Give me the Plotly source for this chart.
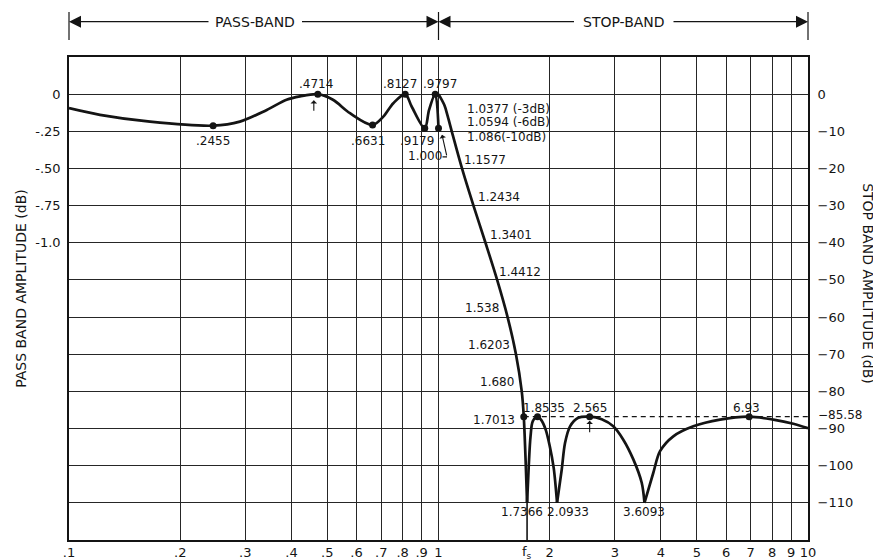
import numpy as np
import plotly.graph_objects as go

# ---------------- data ----------------
# Pass band response (left axis, dB)
PASS_FREQ = [0.1, 0.1213, 0.1657, 0.2455, 0.290, 0.343, 0.388, 0.4217, 0.4714,
             0.518, 0.576, 0.6631, 0.709, 0.7545, 0.8127, 0.846, 0.9179, 0.943,
             0.9797, 1.000]
PASS_DB = [-0.094, -0.139, -0.185, -0.212, -0.185, -0.106, -0.038, -0.015, 0.0,
           -0.038, -0.128, -0.207, -0.151, -0.061, 0.0, -0.083, -0.23, -0.106,
           0.0, -0.23]

# Pass band marked points
PASS_MARK_FREQ = [0.2455, 0.4714, 0.6631, 0.8127, 0.9179, 0.9797, 1.000]
PASS_MARK_DB = [-0.212, 0.0, -0.207, 0.0, -0.23, 0.0, -0.23]

# Stop band response (right axis, dB); notches drawn down to -110
STOP_FREQ = [1.0, 1.0377, 1.0594, 1.086, 1.1577, 1.2434, 1.3401, 1.4412, 1.538,
             1.6203, 1.680, 1.7013, 1.7366,
             1.755, 1.775, 1.80, 1.8535, 1.90, 1.95, 2.00, 2.05, 2.0933,
             2.155, 2.20, 2.27, 2.39, 2.565, 2.765, 2.972, 3.163, 3.367, 3.548, 3.6093,
             3.814, 3.977, 4.32, 4.894, 5.779, 6.93, 8.058, 9.127, 10.0]
STOP_DB = [0, -3, -6, -10, -20, -30, -40, -50, -60,
           -70, -80, -86.8, -110,
           -100, -92, -88, -86.8, -87.8, -90.3, -94.7, -100.6, -110,
           -101.1, -93.9, -89.4, -87.1, -86.8, -87.5, -89.4, -93.0, -98.3, -104.6, -110,
           -101.9, -96.1, -92.1, -89.4, -87.6, -86.8, -87.6, -88.7, -89.9]

STOP_MARK_FREQ = [1.7013, 1.8535, 2.565, 6.93]
STOP_RIPPLE_DB = -86.8
STOP_RIPPLE_TEXT = "−85.58"
NOTCH_FLOOR_DB = -110
FS = 1.7366

X_TICKS = [0.1, 0.2, 0.3, 0.4, 0.5, 0.6, 0.7, 0.8, 0.9, 1, 2, 3, 4, 5, 6, 7, 8, 9, 10]
X_TICK_TEXT = [".1", ".2", ".3", ".4", ".5", ".6", ".7", ".8", ".9", "1",
               "2", "3", "4", "5", "6", "7", "8", "9", "10"]
LEFT_TICKS = [0, -0.25, -0.5, -0.75, -1.0]
LEFT_TICK_TEXT = ["0", "-.25", "-.50", "-.75", "-1.0"]
RIGHT_TICKS = [0, -10, -20, -30, -40, -50, -60, -70, -80, -90, -100, -110]
RIGHT_TICK_TEXT = ["0"] + ["−%d" % (-v) for v in RIGHT_TICKS[1:]]

INK = "#141414"
FONT = "DejaVu Sans"

fig = go.Figure()

# pass band curve
fig.add_trace(go.Scatter(x=PASS_FREQ, y=PASS_DB, mode="lines", yaxis="y",
                         line=dict(color=INK, width=2.7, shape="spline", smoothing=0.9),
                         hoverinfo="skip"))
fig.add_trace(go.Scatter(x=PASS_MARK_FREQ, y=PASS_MARK_DB, mode="markers", yaxis="y",
                         marker=dict(color=INK, size=7), hoverinfo="skip"))

# stop band curve, split at the notches so each lobe is smooth
segments = []
cur_f, cur_v = [], []
for f, v in zip(STOP_FREQ, STOP_DB):
    cur_f.append(f)
    cur_v.append(v)
    if v <= NOTCH_FLOOR_DB and len(cur_f) > 1:
        segments.append((cur_f, cur_v))
        cur_f, cur_v = [f], [v]
if len(cur_f) > 1:
    segments.append((cur_f, cur_v))
for sf, sv in segments:
    fig.add_trace(go.Scatter(x=sf, y=sv, mode="lines", yaxis="y2",
                             line=dict(color=INK, width=2.7, shape="spline", smoothing=0.9),
                             hoverinfo="skip"))

# ripple level dashed line
fig.add_trace(go.Scatter(x=[STOP_MARK_FREQ[0], 10], y=[STOP_RIPPLE_DB, STOP_RIPPLE_DB],
                         mode="lines", yaxis="y2",
                         line=dict(color=INK, width=1.2, dash="5px,4px"), hoverinfo="skip"))
fig.add_trace(go.Scatter(x=STOP_MARK_FREQ, y=[STOP_RIPPLE_DB] * len(STOP_MARK_FREQ),
                         mode="markers", yaxis="y2",
                         marker=dict(color=INK, size=7), hoverinfo="skip"))
# fs marker line below the first notch
fig.add_trace(go.Scatter(x=[FS, FS], y=[NOTCH_FLOOR_DB, -120], mode="lines", yaxis="y2",
                         line=dict(color=INK, width=1.6), hoverinfo="skip"))

# ---------------- labels ----------------
def label(text, f, v, yref, dx, dy, size=12, xanchor="center"):
    fig.add_annotation(x=np.log10(f), y=v, xref="x", yref=yref, text=text,
                       showarrow=False, xshift=dx, yshift=-dy, xanchor=xanchor,
                       yanchor="middle", font=dict(size=size, color=INK, family=FONT))

PASS_LABELS = [(".2455", 0, 15), (".4714", -2, -10), (".6631", -5, 16),
               (".8127", -5, -10), (".9179", -8, 13), (".9797", 5, -10), ("1.000", -14, 28)]
for (txt, dx, dy), f, v in zip(PASS_LABELS, PASS_MARK_FREQ, PASS_MARK_DB):
    label(txt, f, v, "y", dx, dy)

label("1.0377 (-3dB)", 1.0377, -3, "y2", 20.6, 3.6, xanchor="left")
label("1.0594 (-6dB)", 1.0594, -6, "y2", 17.2, 6, xanchor="left")
label("1.086(-10dB)", 1.086, -10, "y2", 13.3, 6, xanchor="left")
for txt, f, v, dx, dy in [("1.1577", 1.1577, -20, 23, -8), ("1.2434", 1.2434, -30, 25.5, -9),
                          ("1.3401", 1.3401, -40, 26, -8), ("1.4412", 1.4412, -50, 23, -8),
                          ("1.538", 1.538, -60, -25.6, -9), ("1.6203", 1.6203, -70, -27, -9),
                          ("1.680", 1.680, -80, -25, -9)]:
    label(txt, f, v, "y2", dx, dy)
label("1.7013", 1.7013, STOP_RIPPLE_DB, "y2", -6.5, 3.5, xanchor="right")
label("1.8535", 1.8535, STOP_RIPPLE_DB, "y2", 6.5, -8.5)
label("2.565", 2.565, STOP_RIPPLE_DB, "y2", 0, -8.5)
label("6.93", 6.93, STOP_RIPPLE_DB, "y2", -3, -8.5)
label("1.7366", 1.7366, NOTCH_FLOOR_DB, "y2", -5, 9)
label("2.0933", 2.0933, NOTCH_FLOOR_DB, "y2", 11, 9)
label("3.6093", 3.6093, NOTCH_FLOOR_DB, "y2", 0, 9)

# leader for the 1.000 point
fig.add_annotation(x=0, y=PASS_MARK_DB[-1], xref="x", yref="y", text="", showarrow=True,
                   xshift=3.5, yshift=-6.5, ax=5, ay=22, arrowhead=1, arrowsize=1,
                   arrowwidth=1.1, arrowcolor=INK)
fig.add_annotation(x=0, y=PASS_MARK_DB[-1], xref="x", yref="y", text="", showarrow=True,
                   xshift=8.5, yshift=-28.5, ax=-6, ay=0, arrowhead=0,
                   arrowwidth=1.1, arrowcolor=INK)
# small pointer arrows
fig.add_annotation(x=np.log10(0.4714), y=0, xref="x", yref="y", text="", showarrow=True,
                   xshift=-4, yshift=-6, ax=0, ay=12, arrowhead=1, arrowsize=1,
                   arrowwidth=1.1, arrowcolor=INK)
fig.add_annotation(x=np.log10(2.565), y=STOP_RIPPLE_DB, xref="x", yref="y2", text="",
                   showarrow=True, yshift=-4, ax=0, ay=13, arrowhead=1, arrowsize=1,
                   arrowwidth=1.1, arrowcolor=INK)

# fs tick label
fig.add_annotation(x=np.log10(FS), y=0, xref="x", yref="paper", text="f<sub>s</sub>",
                   showarrow=False, xanchor="center", yanchor="top", yshift=-2,
                   font=dict(size=13, color=INK, family=FONT))
# ripple level label on the right
fig.add_annotation(x=1, y=STOP_RIPPLE_DB, xref="paper", yref="y2", text=STOP_RIPPLE_TEXT,
                   showarrow=False, xanchor="left", xshift=8, yshift=2,
                   font=dict(size=12, color=INK, family=FONT))

# axis titles
fig.add_annotation(x=-0.065, y=0.522, xref="paper", yref="paper", xanchor="center",
                   yanchor="middle", text="PASS BAND AMPLITUDE (dB)", textangle=-90,
                   showarrow=False, font=dict(size=14, color=INK, family=FONT))
fig.add_annotation(x=1.081, y=0.53, xref="paper", yref="paper", xanchor="center",
                   yanchor="middle", text="STOP BAND AMPLITUDE (dB)", textangle=90,
                   showarrow=False, font=dict(size=14, color=INK, family=FONT))

# ---------------- header: PASS-BAND / STOP-BAND ----------------
HY = 1.0731
for xp in [0, 0.5, 1]:
    fig.add_shape(type="line", xref="paper", yref="paper", x0=xp, x1=xp, y0=1.0352,
                  y1=1.0932, line=dict(color=INK, width=1.2))
for xp, ax in [(0, 141), (0.5, -138), (0.5, 137), (1, -136)]:
    fig.add_annotation(x=xp, y=HY, xref="paper", yref="paper", text="", showarrow=True,
                       ax=ax, ay=0, arrowhead=2, arrowsize=2, arrowwidth=1.2,
                       arrowcolor=INK, standoff=0)
fig.add_annotation(x=0.2517, y=HY, xref="paper", yref="paper", text="PASS-BAND",
                   xanchor="center", yanchor="middle",
                   showarrow=False, font=dict(size=14, color=INK, family=FONT))
fig.add_annotation(x=0.751, y=HY, xref="paper", yref="paper", text="STOP-BAND",
                   xanchor="center", yanchor="middle",
                   showarrow=False, font=dict(size=14, color=INK, family=FONT))

# ---------------- layout ----------------
# the page body adds an 8px offset, so the figure is 8px smaller and margins compensate
fig.update_layout(
    width=873, height=552,
    margin=dict(l=61, r=73, t=49, b=20),
    paper_bgcolor="white", plot_bgcolor="white",
    showlegend=False,
    font=dict(family=FONT, size=13, color=INK),
    xaxis=dict(type="log", range=[-1, 1], tickvals=X_TICKS, ticktext=X_TICK_TEXT,
               showgrid=True, gridcolor="#262626", gridwidth=1.2,
               showline=True, linecolor=INK, linewidth=1.6, mirror=True,
               ticks="", zeroline=False, automargin=False,
               tickfont=dict(size=13, family=FONT, color=INK)),
    yaxis=dict(range=[-3.0, 0.25], tickvals=LEFT_TICKS, ticktext=LEFT_TICK_TEXT,
               showgrid=False, showline=True, linecolor=INK, linewidth=1.6, mirror=True,
               ticks="outside", ticklen=4, tickcolor="rgba(0,0,0,0)",
               zeroline=False, automargin=False,
               tickfont=dict(size=13, family=FONT, color=INK)),
    yaxis2=dict(range=[-120, 10], overlaying="y", side="right",
                tickvals=RIGHT_TICKS, ticktext=RIGHT_TICK_TEXT,
                showgrid=True, gridcolor="#262626", gridwidth=1.2,
                showline=False, ticks="outside", ticklen=6, tickcolor="rgba(0,0,0,0)",
                zeroline=False, automargin=False,
                tickfont=dict(size=13, family=FONT, color=INK)),
)

fig.write_html("out.html")
